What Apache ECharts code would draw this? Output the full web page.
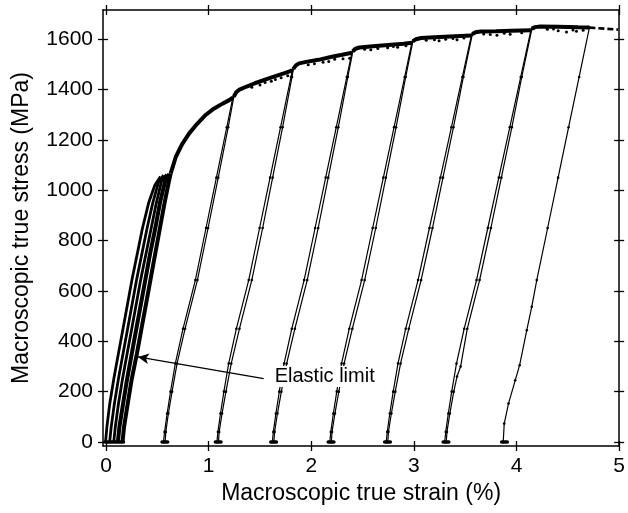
<!DOCTYPE html>
<html>
<head>
<meta charset="utf-8">
<script src="https://cdn.jsdelivr.net/npm/echarts@6/dist/echarts.min.js"></script>
<style>
  html, body { margin: 0; padding: 0; background: #fff; }
  #chart { width: 628px; height: 513px; }
</style>
</head>
<body>
<div id="chart"></div>
<script>
// Axis ticks
const strainTicks = [0, 1, 2, 3, 4, 5];
const stressTicks = [0, 200, 400, 600, 800, 1000, 1200, 1400, 1600];

// Early loading/unloading cycles near the origin: [strain %, stress MPa]
const initLoadA = [[-0.005,0],[0.008,60],[0.035,150],[0.075,250],[0.12,350],[0.165,450],[0.21,550],[0.255,650],[0.305,750],[0.355,850],[0.415,950],[0.475,1020],[0.53,1055]];
const initLoadB = [[0.035,0],[0.05,60],[0.08,150],[0.12,250],[0.165,350],[0.21,450],[0.255,550],[0.3,650],[0.35,750],[0.4,850],[0.455,950],[0.51,1030],[0.56,1060]];
const initLoadC = [[0.075,0],[0.09,60],[0.12,150],[0.16,250],[0.205,350],[0.25,450],[0.295,550],[0.34,650],[0.39,750],[0.44,850],[0.49,950],[0.54,1035],[0.59,1063]];
const initLoadD = [[0.115,0],[0.13,60],[0.165,150],[0.205,250],[0.25,350],[0.295,450],[0.34,550],[0.385,650],[0.43,750],[0.48,850],[0.525,950],[0.575,1035],[0.615,1065]];
const initLoadE = [[0.16,0],[0.175,60],[0.21,150],[0.25,250],[0.3,350],[0.345,450],[0.39,550],[0.435,650],[0.48,750],[0.525,850],[0.57,950],[0.61,1030],[0.63,1067]];

// Hardening envelope, one segment between successive unloadings
const envelope0 = [[0.63,1067],[0.68,1133],[0.74,1182],[0.81,1226],[0.89,1265],[0.97,1299],[1.05,1324],[1.13,1343],[1.2,1358],[1.235,1368]];
const envelope1 = [[1.245,1372],[1.27,1390],[1.3,1400],[1.37,1412],[1.45,1425],[1.55,1439],[1.65,1453],[1.74,1465],[1.815,1476]];
const envelope2 = [[1.825,1482],[1.85,1496],[1.88,1504],[1.95,1510],[2.07,1518],[2.2,1530],[2.3,1538],[2.395,1546]];
const envelope3 = [[2.405,1552],[2.43,1562],[2.47,1567],[2.6,1572],[2.75,1577],[2.9,1582],[2.98,1586]];
const envelope4 = [[2.99,1592],[3.02,1600],[3.07,1605],[3.2,1608],[3.4,1612],[3.56,1615]];
const envelope5 = [[3.57,1621],[3.6,1628],[3.65,1631],[3.8,1632],[3.95,1634],[4.14,1636]];
const envelope6 = [[4.15,1642],[4.18,1648],[4.23,1650],[4.4,1649],[4.6,1647],[4.71,1646]];
const envelopeTail = [[4.71,1646],[4.99,1638]];

// Serrations hanging just below the envelope
const serrations = [[1.42,1409],[1.5,1418],[1.55,1428],[1.61,1433],[1.65,1440],[1.706,1447],[1.77,1455],
  [1.97,1499],[2.03,1502],[2.115,1508],[2.17,1511],[2.228,1520],[2.309,1522],[2.374,1524],
  [2.52,1560],[2.58,1558],[2.648,1563],[2.744,1566],[2.8,1571],[2.841,1568],[2.922,1574],
  [3.12,1596],[3.2,1598],[3.245,1594],[3.309,1600],[3.38,1603],[3.42,1598],[3.487,1605],
  [3.68,1621],[3.744,1619],[3.809,1616],[3.88,1624],[3.938,1620],[4.05,1626],
  [4.3,1640],[4.36,1641],[4.406,1634],[4.487,1629],[4.55,1637],[4.584,1632],[4.649,1636]];

// Unloading / reloading loops
const loop1Unload = [[1.235,1368],[1.176,1250],[1.075,1050],[0.974,850],[0.87,643],[0.75,450],[0.675,312],[0.628,200],[0.595,113],[0.57,40],[0.56,0]];
const loop1Reload = [[0.575,0],[0.582,40],[0.607,113],[0.643,200],[0.692,312],[0.77,450],[0.89,643],[0.994,850],[1.093,1050],[1.19,1250],[1.245,1372]];
const loop2Unload = [[1.815,1476],[1.802,1450],[1.7,1250],[1.598,1050],[1.496,850],[1.39,643],[1.27,450],[1.195,312],[1.148,200],[1.115,113],[1.09,40],[1.08,0]];
const loop2Reload = [[1.095,0],[1.102,40],[1.13,113],[1.168,200],[1.22,312],[1.3,450],[1.42,643],[1.526,850],[1.623,1050],[1.72,1250],[1.812,1450],[1.825,1482]];
const loop3Unload = [[2.395,1546],[2.346,1450],[2.243,1250],[2.14,1050],[2.037,850],[1.93,643],[1.81,450],[1.735,312],[1.688,200],[1.655,113],[1.63,40],[1.62,0]];
const loop3Reload = [[1.635,0],[1.642,40],[1.67,113],[1.708,200],[1.76,312],[1.84,450],[1.96,643],[2.067,850],[2.165,1050],[2.263,1250],[2.356,1450],[2.405,1552]];
const loop4Unload = [[2.98,1586],[2.91,1450],[2.806,1250],[2.702,1050],[2.598,850],[2.49,643],[2.37,450],[2.295,312],[2.248,200],[2.215,113],[2.19,40],[2.18,0]];
const loop4Reload = [[2.195,0],[2.202,40],[2.23,113],[2.268,200],[2.32,312],[2.4,450],[2.52,643],[2.628,850],[2.727,1050],[2.826,1250],[2.92,1450],[2.99,1592]];
const loop5Unload = [[3.56,1615],[3.472,1450],[3.365,1250],[3.258,1050],[3.151,850],[3.04,643],[2.92,450],[2.845,312],[2.798,200],[2.765,113],[2.74,40],[2.73,0]];
const loop5Reload = [[2.745,0],[2.752,40],[2.78,113],[2.818,200],[2.87,312],[2.95,450],[3.07,643],[3.181,850],[3.283,1050],[3.385,1250],[3.482,1450],[3.57,1621]];
const loop6Unload = [[4.14,1636],[4.041,1450],[3.934,1250],[3.827,1050],[3.72,850],[3.61,643],[3.49,450],[3.415,312],[3.368,200],[3.335,113],[3.31,40],[3.3,0]];
const loop6Reload = [[3.315,0],[3.322,40],[3.35,113],[3.388,200],[3.42,260],[3.455,300],[3.52,450],[3.64,643],[3.75,850],[3.852,1050],[3.954,1250],[4.051,1450],[4.15,1642]];
const finalUnload = [[4.71,1646],[4.61,1450],[4.507,1250],[4.405,1050],[4.303,850],[4.197,643],[4.148,537],[4.1,444],[4.03,305],[3.987,245],[3.922,153],[3.88,73],[3.87,0]];

// Residual-strain feet resting on the zero-stress line: [from, to] strain
const feet = [[-0.01,0.17],[0.545,0.6],[1.065,1.12],[1.605,1.66],[2.165,2.22],[2.715,2.77],[3.285,3.34],[3.855,3.91]];

// Annotation
const elasticLimitLabel = 'Elastic limit';
const elasticLimitFrom = [1.536, 252];
const elasticLimitTo = [0.31, 338];

const INK = '#000';
const FONT = '"Liberation Sans", Arial, sans-serif';

function curve(data, width, extra) {
  return Object.assign({
    type: 'line', data: data, xAxisIndex: 0, yAxisIndex: 0,
    showSymbol: false, symbol: 'none', silent: true, z: 3,
    lineStyle: { color: INK, width: width }
  }, extra || {});
}
function dotted(data) {
  return curve(data, 1.2, {
    showSymbol: true, symbol: 'circle', symbolSize: 2.6,
    itemStyle: { color: INK }
  });
}

const series = [];
[initLoadA, initLoadB, initLoadC].forEach(d => series.push(curve(d, 2.8)));
[initLoadD, initLoadE].forEach(d => series.push(curve(d, 4)));
[envelope0, envelope1, envelope2, envelope3, envelope4, envelope5, envelope6]
  .forEach(d => series.push(curve(d, 4, { z: 4 })));
series.push(curve(envelopeTail, 2.6, { lineStyle: { color: INK, width: 2.6, type: [6, 3] } }));
[loop1Unload, loop1Reload, loop2Unload, loop2Reload, loop3Unload, loop3Reload,
 loop4Unload, loop4Reload, loop5Unload, loop5Reload, loop6Unload, loop6Reload, finalUnload]
  .forEach(d => series.push(dotted(d)));
feet.forEach(f => series.push(curve([[f[0], 0], [f[1], 0]], 3.5, { lineStyle: { color: INK, width: 3.5, cap: 'round' } })));
series.push({
  type: 'scatter', data: serrations, symbol: 'circle', symbolSize: 3,
  itemStyle: { color: INK, opacity: 1 }, silent: true, z: 4
});
series.push({
  type: 'scatter', data: [elasticLimitFrom], symbolSize: 0, silent: true, z: 10, zlevel: 1,
  itemStyle: { opacity: 1 },
  label: {
    show: true, position: 'right', distance: 8, formatter: elasticLimitLabel,
    color: INK, opacity: 1, fontSize: 20, fontFamily: FONT, offset: [0, -2],
    backgroundColor: '#fff', padding: [1, 3, 0, 3]
  },
  markLine: {
    silent: true, symbol: ['none', 'arrow'], symbolSize: [8, 11],
    label: { show: false },
    lineStyle: { color: INK, width: 1.3, type: 'solid', opacity: 1 },
    data: [[{ coord: elasticLimitFrom }, { coord: elasticLimitTo }]]
  }
});

const X_MIN = -0.03, X_MAX = 5, Y_MIN = -16, Y_MAX = 1716;
const plain = v => String(v);

function xAx(position, inside, showLine, withLabels) {
  return {
    type: 'value', position: position, min: X_MIN, max: X_MAX,
    axisLine: { show: showLine, onZero: false, lineStyle: { color: INK, width: 1.5 } },
    axisTick: { show: true, inside: inside, length: 5, customValues: strainTicks, lineStyle: { color: INK, width: 1.3 } },
    axisLabel: withLabels ? { show: true, customValues: strainTicks, formatter: plain, margin: 10, color: INK, fontSize: 21, fontFamily: FONT } : { show: false },
    splitLine: { show: false }
  };
}
function yAx(position, inside, showLine, withLabels) {
  return {
    type: 'value', position: position, min: Y_MIN, max: Y_MAX,
    axisLine: { show: showLine, onZero: false, lineStyle: { color: INK, width: 1.5 } },
    axisTick: { show: true, inside: inside, length: 5, customValues: stressTicks, lineStyle: { color: INK, width: 1.3 } },
    axisLabel: withLabels ? { show: true, customValues: stressTicks, formatter: plain, margin: 10, color: INK, fontSize: 21, fontFamily: FONT } : { show: false },
    splitLine: { show: false }
  };
}

const xMain = xAx('bottom', false, true, true);
xMain.name = 'Macroscopic true strain (%)';
xMain.nameLocation = 'middle';
xMain.nameGap = 36;
xMain.nameTextStyle = { color: INK, fontSize: 23, fontFamily: FONT, verticalAlign: 'top' };

const yMain = yAx('left', false, true, true);
yMain.name = 'Macroscopic true stress (MPa)';
yMain.nameLocation = 'middle';
yMain.nameGap = 70;
yMain.nameTextStyle = { color: INK, fontSize: 23, fontFamily: FONT };

const chart = echarts.init(document.getElementById('chart'), null, { renderer: 'canvas' });
chart.setOption({
  animation: false,
  backgroundColor: '#fff',
  grid: { left: 103, right: 5, top: 10, bottom: 67, containLabel: false },
  xAxis: [xMain, xAx('bottom', true, false, false), xAx('top', false, true, false), xAx('top', true, false, false)],
  yAxis: [yMain, yAx('left', true, false, false), yAx('right', false, true, false), yAx('right', true, false, false)],
  series: series
});
</script>
</body>
</html>
